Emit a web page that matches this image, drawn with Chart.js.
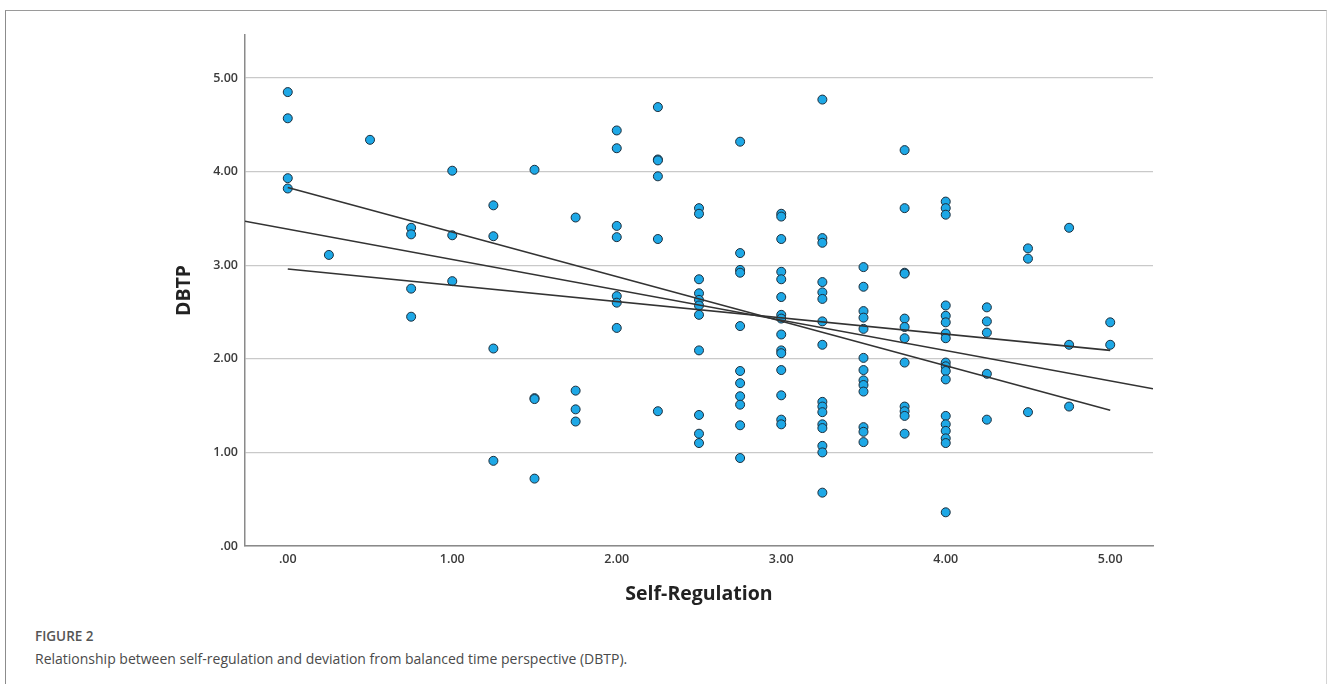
<!DOCTYPE html>
<html>
<head>
<meta charset="utf-8">
<script src="https://cdn.jsdelivr.net/npm/chart.js@4/dist/chart.umd.min.js"></script>
<style>
  body { margin: 0; background: #fff; width: 1328px; height: 684px; overflow: hidden; position: relative; }
  #frame { position: absolute; left: 5px; top: 10px; width: 1320px; height: 700px;
           border-top: 1.5px solid #9a9a9a; border-left: 1.5px solid #8c8c8c; border-right: 1px solid #d4d4d4; }
  #wrap { position: absolute; left: 0; top: 0; width: 1328px; height: 620px; }
  #figLabel { position: absolute; left: 35px; top: 627px; font: 600 13.5px "Open Sans", sans-serif; color: #555; }
  #caption { position: absolute; left: 35px; top: 649px; font: 400 14px "Open Sans", sans-serif; color: #4a4a4a; }
</style>
</head>
<body>
<div id="frame"></div>
<div id="wrap"><canvas id="scatter"></canvas></div>
<div id="figLabel">FIGURE 2</div>
<div id="caption">Relationship between self-regulation and deviation from balanced time perspective (DBTP).</div>
<script>
// Self-Regulation levels and the DBTP scores observed at each level
const selfRegLevels = [0, 0.25, 0.5, 0.75, 1, 1.25, 1.5, 1.75, 2, 2.25, 2.5, 2.75, 3, 3.25, 3.5, 3.75, 4, 4.25, 4.5, 4.75, 5];
const dbtpByLevel = [
    [4.85, 4.57, 3.93, 3.82],
    [3.11],
    [4.34],
    [3.40, 3.33, 2.75, 2.45],
    [4.01, 3.32, 2.83],
    [3.64, 3.31, 2.11, 0.91],
    [4.02, 1.58, 1.57, 0.72],
    [3.51, 1.66, 1.46, 1.33],
    [4.44, 4.25, 3.42, 3.30, 2.67, 2.60, 2.33],
    [4.69, 4.13, 4.12, 3.95, 3.28, 1.44],
    [3.61, 3.55, 2.85, 2.70, 2.63, 2.57, 2.47, 2.09, 1.40, 1.20, 1.10],
    [4.32, 3.13, 2.95, 2.92, 2.35, 1.87, 1.74, 1.60, 1.51, 1.29, 0.94],
    [3.55, 3.52, 3.28, 2.93, 2.85, 2.66, 2.47, 2.43, 2.26, 2.09, 2.06, 1.88, 1.61, 1.35, 1.30],
    [4.77, 3.29, 3.24, 2.82, 2.71, 2.64, 2.40, 2.15, 1.54, 1.49, 1.43, 1.30, 1.26, 1.07, 1.00, 0.57],
    [2.98, 2.77, 2.51, 2.44, 2.32, 2.01, 1.88, 1.77, 1.72, 1.65, 1.27, 1.22, 1.11],
    [4.23, 3.61, 2.92, 2.91, 2.43, 2.34, 2.22, 1.96, 1.49, 1.44, 1.39, 1.20],
    [3.68, 3.61, 3.54, 2.57, 2.46, 2.39, 2.27, 2.22, 1.96, 1.92, 1.87, 1.78, 1.39, 1.30, 1.23, 1.15, 1.10, 0.36],
    [2.55, 2.40, 2.28, 1.84, 1.35],
    [3.18, 3.07, 1.43],
    [3.40, 2.15, 1.49],
    [2.39, 2.15]
];

// fitted lines (end points)
const fitLineX = [-0.26, 5.26];
const fitLineY = [3.47, 1.68];
const steepLineX = [0, 5];
const steepLineY = [3.83, 1.45];
const flatLineX = [0, 5];
const flatLineY = [2.96, 2.09];

const xTicks = [0, 1, 2, 3, 4, 5];
const yTicks = [0, 1, 2, 3, 4, 5];

const points = [];
selfRegLevels.forEach((x, i) => {
    dbtpByLevel[i].forEach(y => points.push({ x: x, y: y }));
});

function toXY(xs, ys) {
    return xs.map((x, i) => ({ x: x, y: ys[i] }));
}

function tickLabel(v) {
    return v === 0 ? '.00' : v.toFixed(2);
}

const lineStyle = {
    type: 'line',
    showLine: true,
    borderColor: '#333333',
    borderWidth: 1.6,
    pointRadius: 0,
    fill: false
};

const tickFont = { family: 'Open Sans', size: 12.5, weight: '600' };
const titleFont = { family: 'Open Sans', size: 19.5, weight: 'bold' };

new Chart(document.getElementById('scatter').getContext('2d'), {
    type: 'scatter',
    data: {
        datasets: [
            Object.assign({ label: 'Fit', data: toXY(fitLineX, fitLineY) }, lineStyle),
            Object.assign({ label: 'Steep', data: toXY(steepLineX, steepLineY) }, lineStyle),
            Object.assign({ label: 'Flat', data: toXY(flatLineX, flatLineY) }, lineStyle),
            {
                label: 'DBTP',
                data: points,
                backgroundColor: '#1ea8e6',
                borderColor: '#1c2e3c',
                borderWidth: 1,
                pointRadius: 4.5,
                pointHoverRadius: 4.5
            }
        ]
    },
    options: {
        responsive: true,
        maintainAspectRatio: false,
        animation: false,
        layout: { padding: { left: 160, top: 35, right: 175, bottom: 0 } },
        plugins: {
            legend: { display: false },
            tooltip: { enabled: false }
        },
        scales: {
            x: {
                type: 'linear',
                min: -0.26,
                max: 5.26,
                afterFit: s => { s.height = 74; },
                afterBuildTicks: s => { s.ticks = xTicks.map(v => ({ value: v })); },
                grid: { display: false, drawTicks: false },
                border: { display: true, color: '#8a8a8a', width: 1.5 },
                ticks: { padding: 6, color: '#3a3a3a', font: tickFont, callback: tickLabel },
                title: { display: true, text: 'Self-Regulation', color: '#222', font: titleFont, padding: { top: 0, bottom: 14 } }
            },
            y: {
                type: 'linear',
                min: 0,
                max: 5.46,
                afterFit: s => { s.width = 85; },
                afterBuildTicks: s => { s.ticks = yTicks.map(v => ({ value: v })); },
                grid: { color: '#c9c9c9', lineWidth: 1.2, drawTicks: false },
                border: { display: true, color: '#8a8a8a', width: 1.5 },
                ticks: { padding: 7, color: '#3a3a3a', font: tickFont, callback: tickLabel },
                title: { display: true, text: 'DBTP', color: '#222', font: titleFont, padding: { top: 13, bottom: 0 } }
            }
        }
    }
});
</script>
</body>
</html>
